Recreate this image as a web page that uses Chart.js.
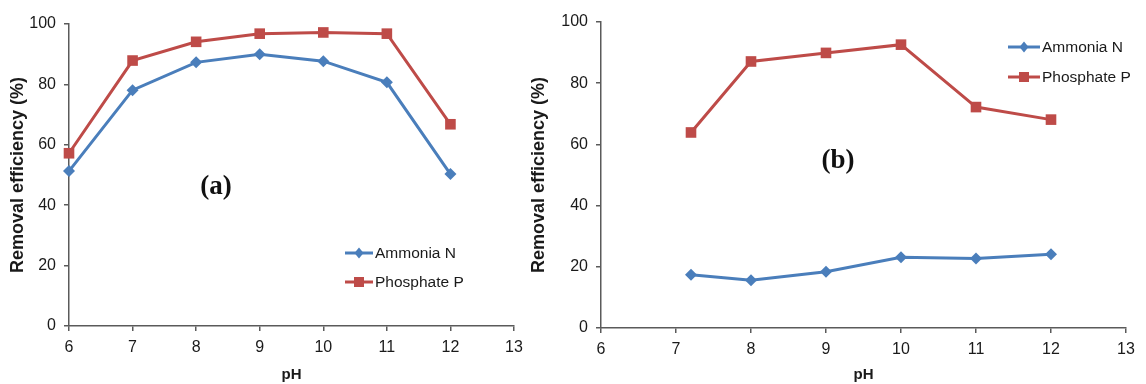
<!DOCTYPE html>
<html>
<head>
<meta charset="utf-8">
<script src="https://cdn.jsdelivr.net/npm/chart.js@4"></script>
<style>
  html, body { margin: 0; padding: 0; background: #fff; }
  body { width: 1146px; height: 384px; position: relative; overflow: hidden; }
  canvas { position: absolute; top: 0; }
  #ca { left: 0; }
  #cb { left: 528px; }
</style>
</head>
<body>
<canvas id="ca" width="528" height="384"></canvas>
<canvas id="cb" width="618" height="384"></canvas>
<script>
// ---- Data ----
const seriesNames = ['Ammonia N', 'Phosphate P'];
const phA = [6, 7, 8, 9, 10, 11, 12];
const ammoniaA = [51.3, 78.1, 87.3, 90.0, 87.7, 80.7, 50.3];
const phosphateA = [57.2, 87.9, 94.1, 96.8, 97.2, 96.8, 66.8];
const phB = [7.2, 8, 9, 10, 11, 12];
const ammoniaB = [17.4, 15.6, 18.4, 23.1, 22.7, 24.1];
const phosphateB = [63.9, 87.1, 89.9, 92.6, 72.2, 68.1];
const panelLabels = ['(a)', '(b)'];
const xTitle = 'pH';
const yTitle = 'Removal efficiency (%)';

const BLUE = '#4A7EBB';
const RED = '#BE4B48';
const AXIS = '#5a5a5a';
const TXT = '#1a1a1a';
const FONT = "'Liberation Sans', Arial, sans-serif";

function pts(xs, ys) { return xs.map((x, i) => ({ x: x, y: ys[i] })); }

function makeChart(id, cfg) {
  const overlay = {
    id: 'overlay',
    afterDraw(chart) {
      const ctx = chart.ctx;
      ctx.save();
      // panel label
      ctx.font = "bold 27px 'Liberation Serif', 'Times New Roman', serif";
      ctx.fillStyle = '#111';
      ctx.textAlign = 'center';
      ctx.textBaseline = 'middle';
      ctx.fillText(cfg.label, cfg.labelX, cfg.labelY);
      // legend
      const items = [
        { name: seriesNames[0], color: BLUE, style: 'rectRot' },
        { name: seriesNames[1], color: RED, style: 'rect' }
      ];
      items.forEach((it, i) => {
        const y = cfg.legY + i * cfg.legGap;
        ctx.strokeStyle = it.color;
        ctx.lineWidth = 3;
        ctx.beginPath();
        ctx.moveTo(cfg.legX, y);
        ctx.lineTo(cfg.legX + cfg.legLen, y);
        ctx.stroke();
        ctx.fillStyle = it.color;
        const cx = cfg.legX + cfg.legLen / 2;
        ctx.beginPath();
        if (it.style === 'rect') {
          ctx.rect(cx - 5, y - 5, 10, 10);
        } else {
          ctx.moveTo(cx, y - 5.5); ctx.lineTo(cx + 4.5, y); ctx.lineTo(cx, y + 5.5); ctx.lineTo(cx - 4.5, y); ctx.closePath();
        }
        ctx.fill();
        ctx.fillStyle = TXT;
        ctx.font = '15.5px ' + FONT;
        ctx.textAlign = 'left';
        ctx.textBaseline = 'middle';
        ctx.fillText(it.name, cfg.legX + cfg.legLen + 2, y + 1);
      });
      ctx.restore();
    }
  };
  return new Chart(document.getElementById(id), {
    type: 'line',
    data: {
      datasets: [
        { label: seriesNames[0], data: pts(cfg.xs, cfg.amm), borderColor: BLUE, backgroundColor: BLUE,
          borderWidth: 3, pointStyle: 'rectRot', pointRadius: 6, pointBorderWidth: 0, pointHoverRadius: 6, clip: false, tension: 0 },
        { label: seriesNames[1], data: pts(cfg.xs, cfg.pho), borderColor: RED, backgroundColor: RED,
          borderWidth: 3, pointStyle: 'rect', pointRadius: 7.5, pointBorderWidth: 0, pointHoverRadius: 7.5, clip: false, tension: 0 }
      ]
    },
    options: {
      responsive: false,
      animation: false,
      devicePixelRatio: 1,
      layout: { padding: { left: 0, top: cfg.padTop, right: cfg.padRight, bottom: 0 } },
      plugins: { legend: { display: false }, tooltip: { enabled: false } },
      scales: {
        x: {
          type: 'linear', min: 6, max: 13,
          ticks: { stepSize: 1, color: TXT, font: { family: FONT, size: 16 }, padding: 7, maxRotation: 0 },
          grid: { display: true, drawOnChartArea: false, drawTicks: true, tickLength: 5, color: AXIS, lineWidth: 1.5 },
          border: { display: true, color: AXIS, width: 1.5 },
          title: { display: true, text: xTitle, color: TXT, font: { family: FONT, size: 15, weight: 'bold' }, padding: { top: 0, bottom: 0 } },
          afterFit(s) { s.height = cfg.xH; s.paddingRight = 0; s.paddingLeft = 0; }
        },
        y: {
          type: 'linear', min: 0, max: 100,
          ticks: { stepSize: 20, color: TXT, font: { family: FONT, size: 16 }, padding: 8 },
          grid: { display: true, drawOnChartArea: false, drawTicks: true, tickLength: 5, color: AXIS, lineWidth: 1.5 },
          border: { display: true, color: AXIS, width: 1.5 },
          title: { display: true, text: yTitle, color: TXT, font: { family: FONT, size: 18, weight: 'bold' }, padding: { top: cfg.yTitlePad, bottom: 0 } },
          afterFit(s) { s.width = cfg.yW; }
        }
      }
    },
    plugins: [overlay]
  });
}

makeChart('ca', {
  xs: phA, amm: ammoniaA, pho: phosphateA,
  padTop: 24, padRight: 14, xH: 58, yW: 69, yTitlePad: 7.5,
  label: panelLabels[0], labelX: 216, labelY: 187,
  legX: 345, legLen: 28, legY: 253, legGap: 29
});
makeChart('cb', {
  xs: phB, amm: ammoniaB, pho: phosphateB,
  padTop: 22, padRight: 20, xH: 56, yW: 73, yTitlePad: 0,
  label: panelLabels[1], labelX: 310, labelY: 161,
  legX: 480, legLen: 32, legY: 47, legGap: 30
});
</script>
</body>
</html>
